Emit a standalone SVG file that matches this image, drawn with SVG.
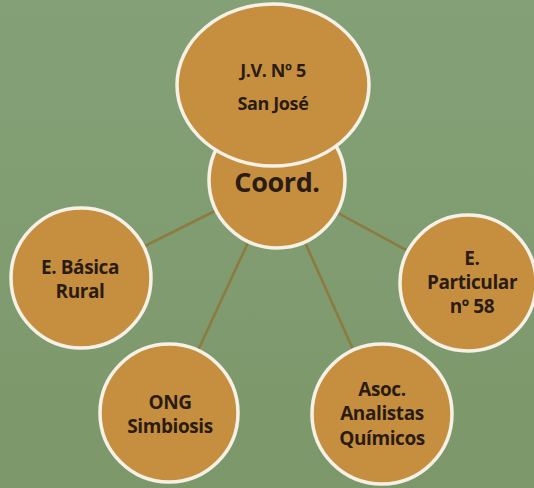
<svg xmlns="http://www.w3.org/2000/svg" width="534" height="488" viewBox="0 0 534 488">
<defs>
<linearGradient id="bg" x1="0" y1="0" x2="0" y2="1">
<stop offset="0" stop-color="#84a077"/>
<stop offset="1" stop-color="#7c986a"/>
</linearGradient>
<style>
.n{fill:#c68f40;stroke:#f6f1e6;stroke-width:3.5}
.t{font-family:"Open Sans","Noto Sans",sans-serif;font-weight:bold;font-size:19px;fill:#2a1c12;text-anchor:middle;letter-spacing:-0.4px}
.c{stroke:#8d7a3e;stroke-width:2.5;fill:none}
</style>
</defs>
<rect width="534" height="488" fill="url(#bg)"/>
<g id="connectors">
<line class="c" x1="277" y1="180" x2="81" y2="278"/>
<line class="c" x1="277" y1="180" x2="169" y2="413"/>
<line class="c" x1="277" y1="180" x2="382" y2="414"/>
<line class="c" x1="277" y1="180" x2="467" y2="283"/>
</g>
<g id="basica">
<circle class="n" cx="81" cy="278" r="70"/>
<text class="t" x="80" y="274">E. Básica</text>
<text class="t" x="80" y="298">Rural</text>
</g>
<g id="particular">
<circle class="n" cx="468" cy="283" r="68"/>
<text class="t" x="472" y="265">E.</text>
<text class="t" x="472" y="289">Particular</text>
<text class="t" x="472" y="313">nº 58</text>
</g>
<g id="ong">
<circle class="n" cx="169" cy="413" r="69"/>
<text class="t" x="170" y="409">ONG</text>
<text class="t" x="170" y="433">Simbiosis</text>
</g>
<g id="asoc">
<circle class="n" cx="382" cy="414" r="70"/>
<text class="t" x="382" y="396">Asoc.</text>
<text class="t" x="382" y="420">Analistas</text>
<text class="t" x="382" y="445">Químicos</text>
</g>
<g id="coord">
<circle class="n" cx="277" cy="180" r="68"/>
<text class="t" x="277" y="192" style="font-size:27px">Coord.</text>
</g>
<g id="jv">
<ellipse class="n" cx="273" cy="85" rx="96" ry="81"/>
<text class="t" x="273" y="77" style="font-size:18px">J.V. Nº 5</text>
<text class="t" x="273" y="110" style="font-size:18px">San José</text>
</g>
</svg>
